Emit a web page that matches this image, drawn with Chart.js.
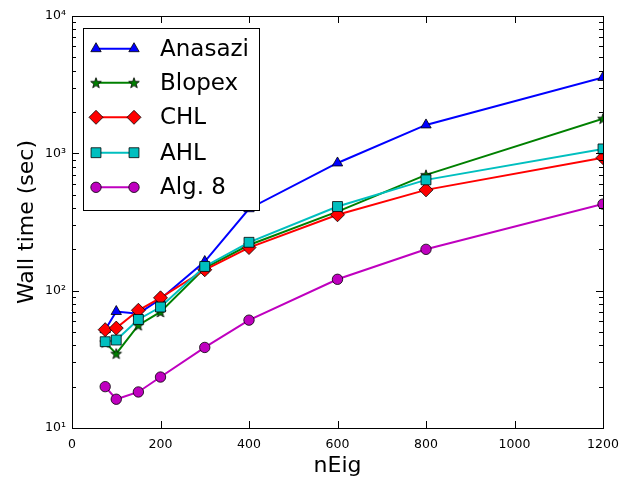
<!DOCTYPE html>
<html>
<head>
<meta charset="utf-8">
<script src="https://cdn.jsdelivr.net/npm/chart.js@4/dist/chart.umd.min.js"></script>
<style>
  html, body { margin: 0; padding: 0; background: #fff; }
  #wrap { width: 623px; height: 479px; }
</style>
</head>
<body>
<div id="wrap"><canvas id="c" width="623" height="479"></canvas></div>
<script>
const nEig = [75, 100, 150, 200, 300, 400, 600, 800, 1200];
const anasazi = [52, 70.5, 68, 87, 163, 395, 851, 1610, 3570];
const blopex = [42, 34.8, 56, 70, 146, 215, 376, 697, 1790];
const chl = [52, 53.4, 72, 88.7, 142, 206, 357, 542, 930];
const ahl = [42.5, 43.7, 61.7, 76, 150, 225, 410, 641, 1077];
const alg8 = [20, 16.2, 18.3, 23.5, 38.6, 61, 121, 200, 427];
const seriesNames = ['Anasazi', 'Blopex', 'CHL', 'AHL', 'Alg. 8'];
const yTickValues = [10, 100, 1000, 10000];
const yTickLabels = ['10\u00B9', '10\u00B2', '10\u00B3', '10\u2074'];

const FONT = 'DejaVu Sans';

function starCanvas(fill) {
  const s = 16, c = document.createElement('canvas');
  c.width = s; c.height = s;
  const g = c.getContext('2d');
  const cx = s / 2, cy = s / 2 + 0.5, R = 5.6, r = 2.3;
  g.beginPath();
  for (let i = 0; i < 10; i++) {
    const rad = (i % 2 === 0) ? R : r;
    const a = -Math.PI / 2 + i * Math.PI / 5;
    const x = cx + rad * Math.cos(a), y = cy + rad * Math.sin(a);
    if (i === 0) g.moveTo(x, y); else g.lineTo(x, y);
  }
  g.closePath();
  g.fillStyle = fill; g.fill();
  g.lineWidth = 0.8; g.strokeStyle = '#000'; g.stroke();
  return c;
}
const star = starCanvas('#008000');

function pts(arr) { return nEig.map((x, i) => ({ x: x, y: arr[i] })); }

const styles = [
  { data: anasazi, color: '#0000ff', pointStyle: 'triangle', radius: 6 },
  { data: blopex, color: '#008000', pointStyle: star, radius: 6 },
  { data: chl, color: '#ff0000', pointStyle: 'rectRot', radius: 7 },
  { data: ahl, color: '#00bfbf', pointStyle: 'rect', radius: 7 },
  { data: alg8, color: '#bf00bf', pointStyle: 'circle', radius: 5.2 }
];

const datasets = styles.map((s, i) => ({
  label: seriesNames[i],
  data: pts(s.data),
  order: styles.length - i,
  borderColor: s.color,
  backgroundColor: s.color,
  pointBackgroundColor: s.color,
  pointBorderColor: '#000',
  pointBorderWidth: 0.8,
  pointStyle: s.pointStyle,
  pointRadius: s.radius,
  pointHoverRadius: s.radius,
  borderWidth: 2,
  tension: 0,
  clip: 0
}));

const framePlugin = {
  id: 'frame',
  afterDatasetsDraw(chart) {
    const ctx = chart.ctx, a = chart.chartArea;
    const xs = chart.scales.x, ys = chart.scales.y;
    ctx.save();
    ctx.strokeStyle = '#000';
    ctx.lineWidth = 1;
    ctx.beginPath();
    xs.ticks.forEach(t => {
      const px = Math.round(xs.getPixelForValue(t.value)) + 0.5;
      ctx.moveTo(px, a.bottom); ctx.lineTo(px, a.bottom - 7);
      ctx.moveTo(px, a.top); ctx.lineTo(px, a.top + 7);
    });
    yTickValues.forEach(v => {
      const py = Math.round(ys.getPixelForValue(v)) + 0.5;
      ctx.moveTo(a.left, py); ctx.lineTo(a.left + 7, py);
      ctx.moveTo(a.right, py); ctx.lineTo(a.right - 7, py);
    });
    for (let d = 10; d < 10000; d *= 10) {
      for (let k = 2; k <= 9; k++) {
        const py = Math.round(ys.getPixelForValue(k * d)) + 0.5;
        ctx.moveTo(a.left, py); ctx.lineTo(a.left + 4, py);
        ctx.moveTo(a.right, py); ctx.lineTo(a.right - 4, py);
      }
    }
    ctx.stroke();
    ctx.strokeRect(Math.round(a.left) + 0.5, Math.round(a.top) + 0.5,
      Math.round(a.right - a.left), Math.round(a.bottom - a.top));
    ctx.restore();

    // legend
    const lx = 83.5, ly = 28.5, lw = 176, lh = 182;
    ctx.save();
    ctx.fillStyle = '#fff';
    ctx.fillRect(lx, ly, lw, lh);
    ctx.strokeStyle = '#000';
    ctx.lineWidth = 1;
    ctx.strokeRect(lx, ly, lw, lh);
    const rows = [48.7, 82.7, 117.3, 152.7, 187.3];
    chart.data.datasets.forEach((ds, i) => {
      const y = rows[i];
      const x1 = 96, x2 = 134;
      ctx.strokeStyle = ds.borderColor;
      ctx.lineWidth = 2;
      ctx.beginPath(); ctx.moveTo(x1, y); ctx.lineTo(x2, y); ctx.stroke();
      [x1, x2].forEach(x => {
        ctx.save();
        ctx.fillStyle = ds.pointBackgroundColor;
        ctx.strokeStyle = '#000';
        ctx.lineWidth = 0.8;
        Chart.helpers.drawPoint(ctx, { pointStyle: ds.pointStyle, radius: ds.pointRadius, borderWidth: 0.8, rotation: 0 }, x, y);
        ctx.restore();
      });
      ctx.fillStyle = '#000';
      ctx.font = '23px "' + FONT + '"';
      ctx.textBaseline = 'middle';
      ctx.textAlign = 'left';
      ctx.fillText(ds.label, 160, y + 1);
    });
    ctx.restore();
  }
};

new Chart(document.getElementById('c'), {
  type: 'line',
  data: { datasets: datasets },
  options: {
    responsive: false,
    animation: false,
    devicePixelRatio: 1,
    layout: { padding: { top: 16, right: 20, bottom: 0, left: 0 } },
    plugins: { legend: { display: false }, tooltip: { enabled: false } },
    scales: {
      x: {
        type: 'linear',
        min: 0, max: 1200,
        grid: { display: false, drawTicks: false },
        border: { display: false },
        ticks: { stepSize: 200, padding: 9, color: '#000', font: { family: FONT, size: 12.5 }, maxRotation: 0,
          callback: (v) => String(v) },
        title: { display: true, text: 'nEig', color: '#000', font: { family: FONT, size: 22 }, padding: { top: 0, bottom: 0 } },
        afterFit(s) { s.height = 51; s.paddingLeft = 0; s.paddingRight = 0; }
      },
      y: {
        type: 'logarithmic',
        min: 10, max: 10000,
        grid: { display: false, drawTicks: false },
        border: { display: false },
        afterBuildTicks(s) { s.ticks = yTickValues.map(v => ({ value: v })); },
        ticks: {
          padding: 6, color: '#000', font: { family: FONT, size: 12.5 },
          callback: (v) => { const i = yTickValues.indexOf(v); return i >= 0 ? yTickLabels[i] : ''; }
        },
        title: { display: true, text: 'Wall time (sec)', color: '#000', font: { family: FONT, size: 22 }, padding: { top: 14, bottom: 0 } },
        afterFit(s) { s.width = 72; s.paddingTop = 0; s.paddingBottom = 0; }
      }
    }
  },
  plugins: [framePlugin]
});
</script>
</body>
</html>
